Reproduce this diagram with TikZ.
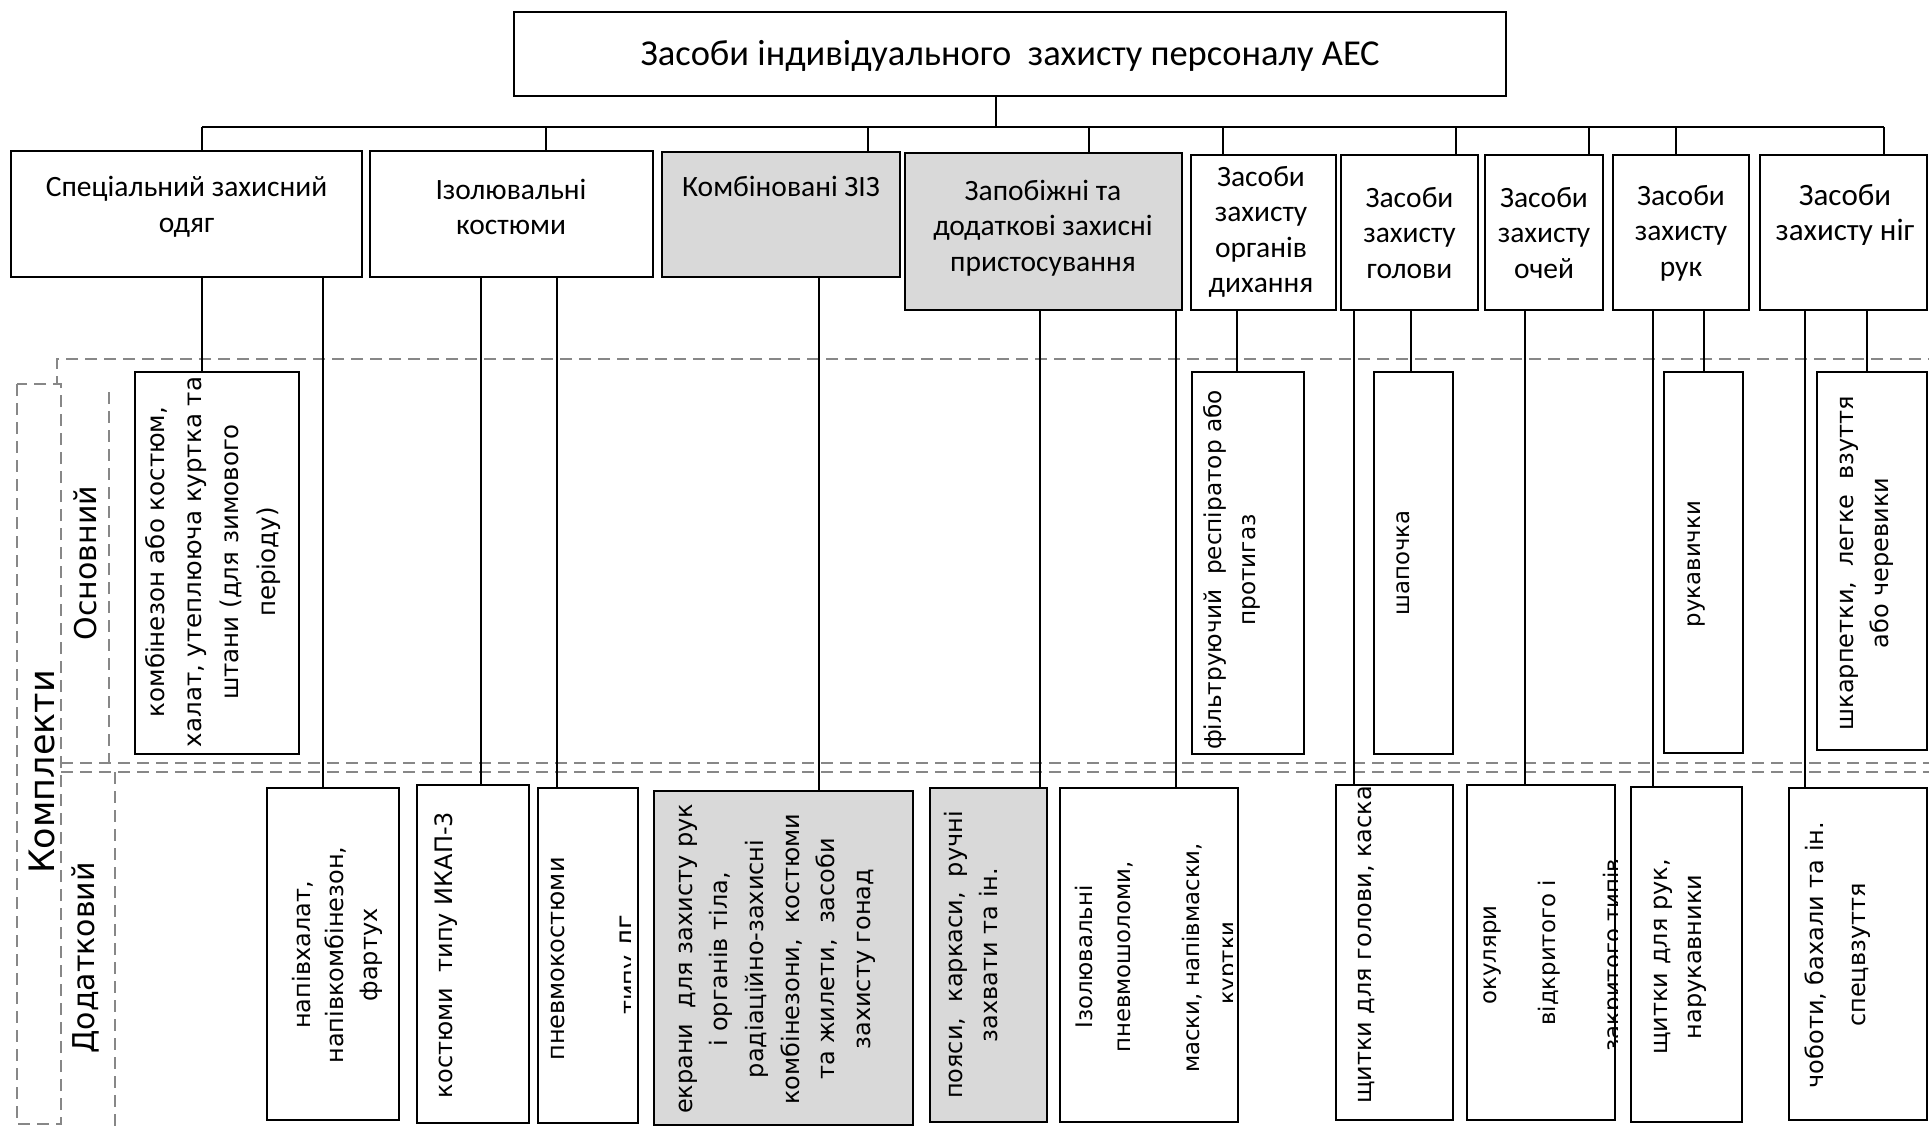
\documentclass[tikz,border=0pt]{standalone}
\usepackage{fontspec}
\setmainfont{Carlito}
\newfontfamily\dvfont{DejaVu Sans}
\definecolor{boxgray}{RGB}{217,217,217}
\definecolor{dashgray}{RGB}{135,135,135}
\tikzset{
  box/.style={draw=black, fill=white, line width=2pt, inner sep=0pt, outer sep=0pt},
  graybox/.style={box, fill=boxgray},
  conn/.style={draw=black, line width=1.6pt},
  zone/.style={draw=dashgray, line width=2.6pt, dash pattern=on 12pt off 7pt},
  htxt/.style={font=\fontsize{29.5}{35.5}\selectfont, align=center, inner sep=0pt},
  vtxt/.style={font=\dvfont\fontsize{24}{#1}\selectfont, align=center, rotate=90, inner sep=0pt},
  vtxt/.default=36,
  vsm/.style={font=\dvfont\fontsize{22.8}{#1}\selectfont, align=center, rotate=90, inner sep=0pt},
  vsm/.default=36,
  lbl/.style={font=\dvfont\fontsize{30}{36}\selectfont, rotate=90, inner sep=0pt},
}
\begin{document}
\begin{tikzpicture}[x=1pt,y=-1pt]
\useasboundingbox (0,0) rectangle (1929,1127);

% dashed zones
\draw[zone] (1940,359) -- (57,359) -- (57,384);
\draw[zone] (61,763) -- (1940,763);
\draw[zone] (61,772) -- (1940,772);
\draw[zone] (17,384) rectangle (61,1124);
\draw[zone] (109,392) -- (109,763);
\draw[zone] (115,772) -- (115,1135);

\node[lbl, font=\dvfont\fontsize{35}{40}\selectfont] (kom) at (42,772) {Комплекти};
\node[lbl] (osn) at (85,563) {Основний};
\node[lbl] (dod) at (85,958) {Додатковий};

% top
\node[box, minimum width=992pt, minimum height=84pt] (top) at (1010,54) {};
\node[htxt, font=\fontsize{36.5}{40}\selectfont] (toptxt) at (1010,56) {Засоби індивідуального\ \ захисту персоналу АЕС};

% level 2
\node[box, minimum width=351pt, minimum height=126pt] (s1) at (186.5,214) {};
\node[htxt] (s1t) at (186.5,207) {Спеціальний захисний\\одяг};
\node[box, minimum width=283pt, minimum height=126pt] (s2) at (511.5,214) {};
\node[htxt] (s2t) at (511,207) {Ізолювальні\\костюми};
\node[graybox, minimum width=238pt, minimum height=125pt] (s3) at (781,214.5) {};
\node[htxt] (s3t) at (781,186) {Комбіновані ЗІЗ};
\node[graybox, minimum width=277pt, minimum height=157pt] (s4) at (1043.5,231.5) {};
\node[htxt] (s4t) at (1043,228) {Запобіжні та\\додаткові захисні\\пристосування};
\node[box, minimum width=145pt, minimum height=155pt] (s5) at (1263.5,232.5) {};
\node[htxt] (s5t) at (1261,232) {Засоби\\захисту\\органів\\дихання};
\node[box, minimum width=137pt, minimum height=155pt] (s6) at (1409.5,232.5) {};
\node[htxt] (s6t) at (1409.5,233) {Засоби\\захисту\\голови};
\node[box, minimum width=118pt, minimum height=155pt] (s7) at (1544,232.5) {};
\node[htxt] (s7t) at (1544,233) {Засоби\\захисту\\очей};
\node[box, minimum width=136pt, minimum height=155pt] (s8) at (1681,232.5) {};
\node[htxt] (s8t) at (1681,233) {Засоби\\захисту\\рук};
\node[box, minimum width=167pt, minimum height=155pt] (s9) at (1843.5,232.5) {};
\node[htxt, font=\fontsize{31}{35.5}\selectfont] (s9t) at (1845,215) {Засоби\\захисту ніг};

% upper row (Основний)
\node[box, minimum width=164pt, minimum height=382pt] (u1) at (217,563) {};
\node[vtxt=36.7, font=\dvfont\fontsize{24.5}{36.7}\selectfont] (u1t) at (213,562) {комбінезон або костюм,\\халат, утеплююча куртка та\\штани (для зимового\\періоду)};
\node[box, minimum width=112pt, minimum height=382pt] (u2) at (1248,563) {};
\node[vtxt=34, font=\dvfont\fontsize{23.2}{34}\selectfont] (u2t) at (1232,570) {фільтруючий\ \ респіратор або\\протигаз};
\node[box, minimum width=79pt, minimum height=382pt] (u3) at (1413.5,563) {};
\node[vsm] (u3t) at (1403,563) {шапочка};
\node[box, minimum width=79pt, minimum height=381pt] (u4) at (1703.5,562.5) {};
\node[vsm] (u4t) at (1696,564) {рукавички};
\node[box, minimum width=110pt, minimum height=378pt] (u5) at (1872,561) {};
\node[vtxt=35] (u5t) at (1867,563) {шкарпетки,\ \ легке\ \ взуття\\або черевики};

% lower row (Додатковий)
\node[box, minimum width=132pt, minimum height=332pt] (l1) at (333,954) {};
\node[vtxt=33.5] (l1t) at (337,955) {напівхалат,\\напівкомбінезон,\\фартух};
\node[box, minimum width=112pt, minimum height=338pt] (l2) at (473,954) {};
\node[vtxt] (l2t) at (446,955) {костюми\ \ типу ИКАП-3};
\node[box, minimum width=100pt, minimum height=335pt] (l3) at (588,955.5) {};
\node[vtxt] (l3t) at (558,959) {пневмокостюми};
\begin{scope}
  \clip (600,790) rectangle (630,1120);
  \node[vtxt, anchor=base] (l3c) at (637.5,965) {типу ЛГ};
\end{scope}
\node[graybox, minimum width=259pt, minimum height=334pt] (l4) at (783.5,958) {};
\node[vtxt=35.6] (l4t) at (777,959) {екрани\ \ для захисту рук\\і органів тіла,\\радіаційно-захисні\\комбінезони,\ \ костюми\\та жилети,\ \ засоби\\захисту гонад};
\node[graybox, minimum width=117pt, minimum height=334pt] (l5) at (988.5,955) {};
\node[vtxt=35.5] (l5t) at (971,955) {пояси,\ \ каркаси,\ \ ручні\\захвати та ін.};
\node[box, minimum width=178pt, minimum height=334pt] (l6) at (1149,955) {};
\node[vsm=38] (l6t) at (1104,957) {Ізолювальні\\пневмошоломи,};
\node[vsm] (l6u) at (1192,958) {маски, напівмаски,};
\begin{scope}
  \clip (1200,790) rectangle (1232,1120);
  \node[vsm, anchor=base] (l6c) at (1235,963) {куртки};
\end{scope}
\node[box, minimum width=117pt, minimum height=335pt] (l7) at (1394.5,952.5) {};
\node[vtxt] (l7t) at (1366,945) {щитки для голови, каска};
\node[box, minimum width=148pt, minimum height=335pt] (l8) at (1541,952.5) {};
\node[vsm] (l8t) at (1492.5,955) {окуляри};
\node[vsm] (l8u) at (1549,953) {відкритого і};
\begin{scope}
  \clip (1590,790) rectangle (1617,1120);
  \node[vsm, anchor=base] (l8c) at (1620,955) {закритого типів};
\end{scope}
\node[box, minimum width=111pt, minimum height=335pt] (l9) at (1686.5,954.5) {};
\node[vtxt=34] (l9t) at (1680,957) {щитки для рук,\\нарукавники};
\node[box, minimum width=138pt, minimum height=332pt] (l10) at (1858,954) {};
\node[vtxt=42] (l10t) at (1838,955) {чоботи, бахали та ін.\\спецвзуття};

% connectors
\coordinate (bl) at (202,127);
\coordinate (br) at (1884,127);
\coordinate (tr) at (996,127);
\draw[conn] (bl) -- (br);
\draw[conn] (tr |- top.south) -- (tr);
\foreach \x/\n in {202/s1,546/s2,868/s3,1089/s4,1223/s5,1456/s6,1589/s7,1676/s8,1884/s9}{
  \coordinate (tap\n) at (\x,127);
  \draw[conn] (tap\n) -- (tap\n |- \n.north);
}
\foreach \x/\a/\b in {202/s1/u1,323/s1/l1,481/s2/l2,557/s2/l3,819/s3/l4,1040/s4/l5,1176/s4/l6,1237/s5/u2,1354/s6/l7,1411/s6/u3,1525/s7/l8,1653/s8/l9,1704/s8/u4,1805/s9/l10,1867/s9/u5}{
  \coordinate (k\a\b) at (\x,0);
  \draw[conn] (k\a\b |- \a.south) -- (k\a\b |- \b.north);
}
\end{tikzpicture}
\end{document}
